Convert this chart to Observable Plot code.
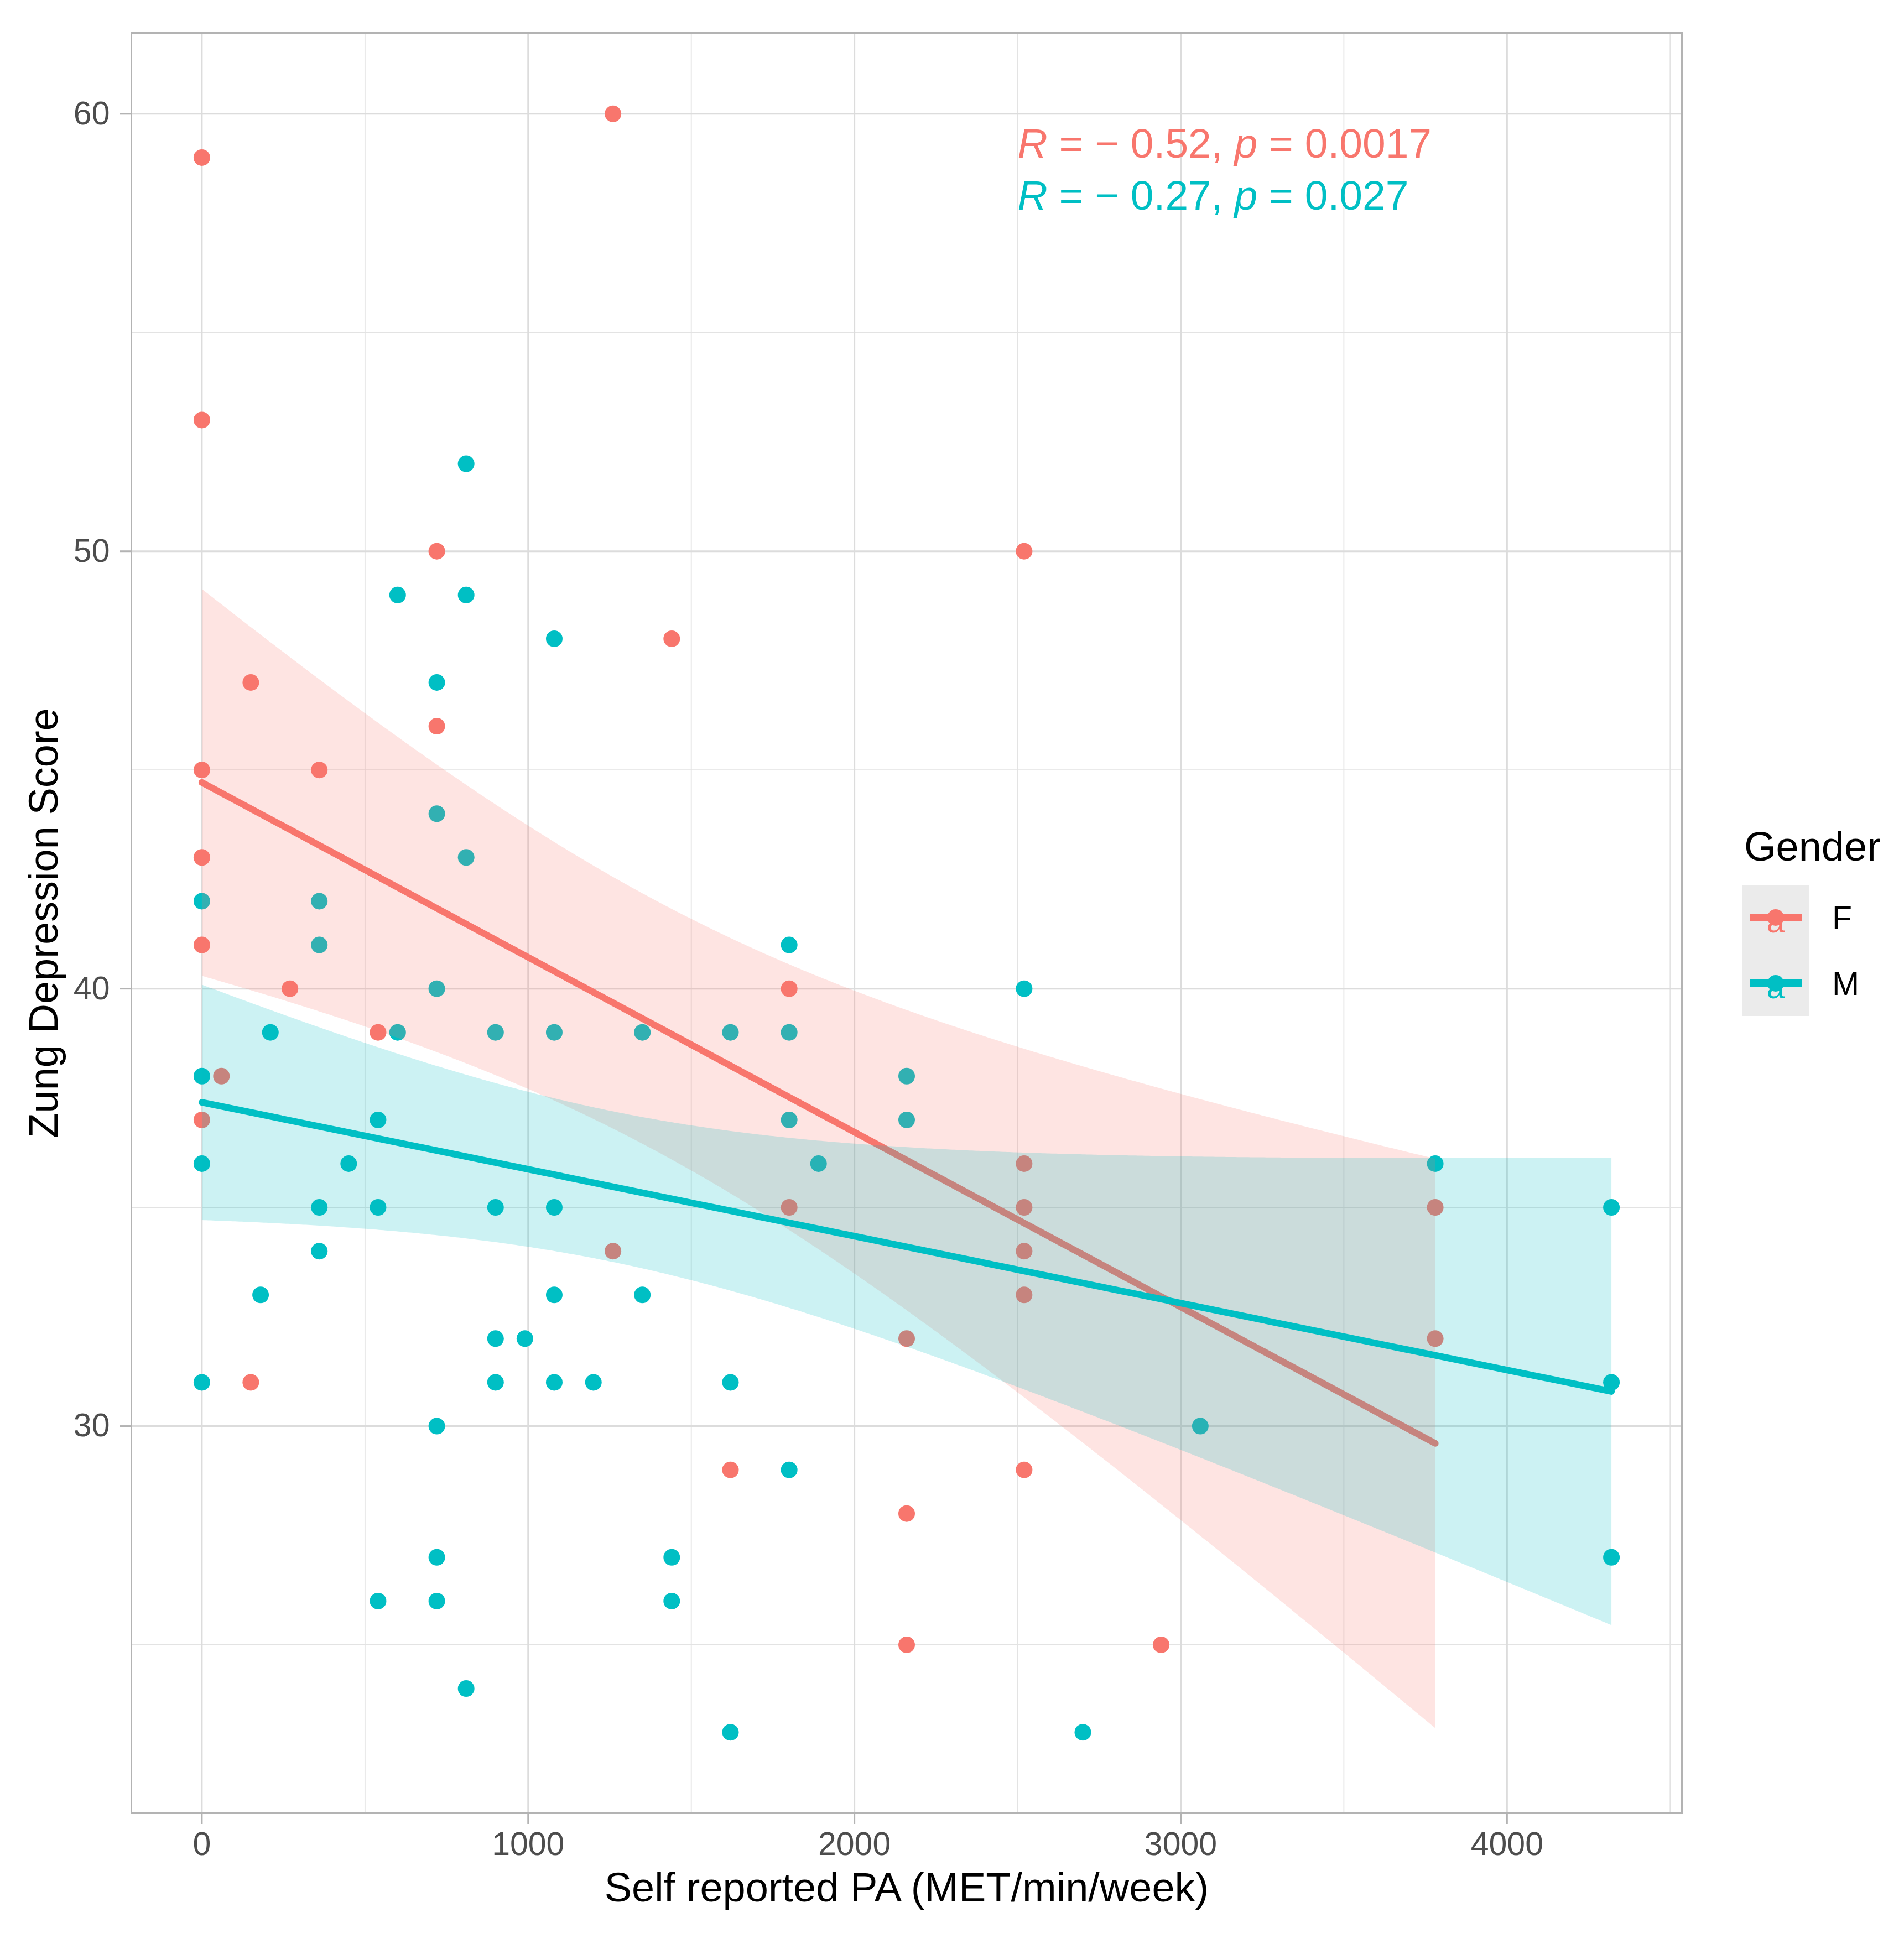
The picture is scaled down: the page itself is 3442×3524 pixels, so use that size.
<!DOCTYPE html>
<html>
<head>
<meta charset="utf-8">
<script src="https://cdn.jsdelivr.net/npm/d3@7"></script>
<script src="https://cdn.jsdelivr.net/npm/@observablehq/plot@0.6"></script>
<style>
html, body { margin: 0; padding: 0; background: #fff; }
#wrap { position: relative; width: 3442px; height: 3524px; font-family: "Liberation Sans", Arial, sans-serif; }
#legend { position: absolute; left: 0; top: 0; }
</style>
</head>
<body>
<div id="wrap"></div>
<script>
// ---- data ----
const genders = ["F", "M"];
const genderColors = ["#F8766D", "#00BFC4"];

const femalePA   = [0, 0, 1260, 720, 1440, 2520, 150, 0, 360, 720, 0, 0, 270, 60, 0, 540, 150, 1260, 1800, 1800, 1620, 2160, 2160, 2160, 2520, 2520, 2520, 2520, 2520, 2940, 3780, 3780];
const femaleZung = [59, 53, 60, 50, 48, 50, 47, 45, 45, 46, 43, 41, 40, 38, 37, 39, 31, 34, 40, 35, 29, 32, 28, 25, 36, 35, 34, 33, 29, 25, 35, 32];

const malePA   = [810, 600, 810, 1080, 720, 720, 810, 0, 360, 360, 720, 210, 600, 900, 1080, 1350, 1620, 1800, 1800, 1800, 1890, 2160, 2160, 2520, 0, 0, 0, 540, 450, 360, 540, 360, 180, 900, 1080, 1080, 900, 990, 900, 1080, 1200, 1350, 720, 720, 540, 720, 810, 1440, 1440, 1620, 1620, 1800, 2700, 3060, 3780, 4320, 4320, 4320];
const maleZung = [52, 49, 49, 48, 47, 44, 43, 42, 42, 41, 40, 39, 39, 39, 39, 39, 39, 41, 39, 37, 36, 38, 37, 40, 38, 36, 31, 37, 36, 35, 35, 34, 33, 35, 35, 33, 32, 32, 31, 31, 31, 33, 30, 27, 26, 26, 24, 27, 26, 31, 23, 29, 23, 30, 36, 35, 31, 27];

const xTicks = [0, 1000, 2000, 3000, 4000];
const xMinor = [500, 1500, 2500, 3500, 4500];
const yTicks = [30, 40, 50, 60];
const yMinor = [25, 35, 45, 55];

const corLabels = ["R = \u2212 0.52, p = 0.0017", "R = \u2212 0.27, p = 0.027"];
const corX = [2500, 2500];
const corY = [59.3, 58.12];

const xTitle = "Self reported PA (MET/min/week)";
const yTitle = "Zung Depression Score";
const legendTitle = "Gender";

// ---- build tables ----
const data = [
  ...femalePA.map((x, i) => ({gender: "F", pa: x, zung: femaleZung[i]})),
  ...malePA.map((x, i) => ({gender: "M", pa: x, zung: maleZung[i]}))
];
const cor = corLabels.map((t, i) => ({gender: genders[i], text: t, x: corX[i], y: corY[i]}));

const FONT = '"Liberation Sans", Arial, Helvetica, sans-serif';

const plot = Plot.plot({
  width: 3442,
  height: 3524,
  marginLeft: 237,
  marginRight: 402,
  marginTop: 59,
  marginBottom: 246,
  style: {fontFamily: FONT, background: "white", overflow: "visible"},
  x: {domain: [-216, 4536]},
  y: {domain: [21.15, 61.85]},
  color: {domain: genders, range: genderColors},
  marks: [
    Plot.gridX(xMinor, {stroke: "#e3e3e3", strokeOpacity: 1, strokeWidth: 1.8}),
    Plot.gridY(yMinor, {stroke: "#e3e3e3", strokeOpacity: 1, strokeWidth: 1.8}),
    Plot.gridX(xTicks, {stroke: "#dcdcdc", strokeOpacity: 1, strokeWidth: 3}),
    Plot.gridY(yTicks, {stroke: "#dcdcdc", strokeOpacity: 1, strokeWidth: 3}),
    Plot.dot(data, {x: "pa", y: "zung", fill: "gender", r: 15}),
    Plot.linearRegressionY(data, {x: "pa", y: "zung", stroke: "gender", fill: "gender", fillOpacity: 0.2, strokeWidth: 12, ci: 0.95}),
    Plot.frame({stroke: "#b3b3b3", strokeWidth: 3}),
    Plot.axisX({ticks: xTicks, tickFormat: "d", tickSize: 20, tickPadding: 14, stroke: "#b3b3b3", strokeWidth: 3, fill: "#4d4d4d", fontSize: 59, label: null}),
    Plot.axisX({ticks: [], label: xTitle, labelAnchor: "center", labelOffset: 159, labelArrow: "none", fontSize: 74, fill: "black"}),
    Plot.axisY({ticks: yTicks, tickFormat: "d", tickSize: 20, tickPadding: 19, stroke: "#b3b3b3", strokeWidth: 3, fill: "#4d4d4d", fontSize: 59, label: null}),
    Plot.axisY({ticks: [], label: yTitle, labelAnchor: "center", labelOffset: 186, labelArrow: "none", fontSize: 74, fill: "black"}),
    Plot.text(cor, {x: "x", y: "y", text: "text", fill: "gender", textAnchor: "start", lineAnchor: "middle", fontSize: 75})
  ]
});

document.getElementById("wrap").appendChild(plot);

// italic R and p in the correlation labels
plot.querySelectorAll("text").forEach((node) => {
  const s = node.textContent;
  if (!corLabels.includes(s)) return;
  node.textContent = "";
  node.setAttribute("style", "white-space: pre");
  s.split(/([Rp])/).forEach((part) => {
    if (!part) return;
    const ts = document.createElementNS("http://www.w3.org/2000/svg", "tspan");
    ts.textContent = part;
    if (part === "R" || part === "p") ts.setAttribute("font-style", "italic");
    node.appendChild(ts);
  });
});

// ---- legend (overlay inline SVG) ----
const NS = "http://www.w3.org/2000/svg";
const leg = document.createElementNS(NS, "svg");
leg.setAttribute("id", "legend");
leg.setAttribute("width", 3442);
leg.setAttribute("height", 3524);
leg.style.position = "absolute";
leg.style.left = "0px";
leg.style.top = "0px";
leg.style.pointerEvents = "none";
leg.style.fontFamily = FONT;
function el(tag, attrs, text) {
  const e = document.createElementNS(NS, tag);
  for (const k in attrs) e.setAttribute(k, attrs[k]);
  if (text != null) e.textContent = text;
  leg.appendChild(e);
  return e;
}
el("text", {x: 3153, y: 1556, "font-size": 74, fill: "black"}, legendTitle);
el("rect", {x: 3150, y: 1600, width: 120, height: 237, fill: "#ebebeb"});
genders.forEach((g, i) => {
  const cy = 1659 + i * 119;
  const c = genderColors[i];
  el("text", {x: 3210, y: cy + 27, "font-size": 58, fill: c, "text-anchor": "middle"}, "a");
  el("line", {x1: 3163, x2: 3258, y1: cy, y2: cy, stroke: c, "stroke-width": 14});
  el("circle", {cx: 3210, cy: cy, r: 15, fill: c});
  el("text", {x: 3312, y: cy + 21, "font-size": 59, fill: "black"}, g);
});
document.getElementById("wrap").appendChild(leg);
</script>
</body>
</html>
